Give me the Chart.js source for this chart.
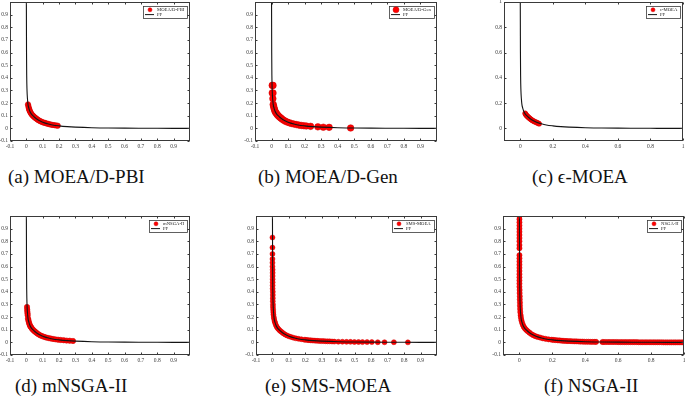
<!DOCTYPE html>
<html><head><meta charset="utf-8">
<script src="https://cdn.jsdelivr.net/npm/chart.js@4/dist/chart.umd.min.js"></script>
<style>
html,body{margin:0;padding:0;background:#fff;width:685px;height:404px;overflow:hidden;position:relative;}
canvas{position:absolute;}
.cap{position:absolute;font-family:"Liberation Serif","DejaVu Serif",serif;font-size:19px;color:#111;white-space:nowrap;line-height:1;}
</style></head><body>
<script>
// ---------- DATA ----------
const pfX = [0, 0.0005, 0.001, 0.002, 0.004, 0.007, 0.01, 0.015, 0.02, 0.03, 0.04, 0.05, 0.07, 0.1, 0.13, 0.16, 0.2, 0.25, 0.3, 0.4, 0.5, 0.6, 0.7, 0.8, 0.9, 1.0];
const pfY = [1.0, 0.8, 0.6, 0.42, 0.3, 0.23, 0.19, 0.16, 0.14, 0.115, 0.1, 0.088, 0.068, 0.048, 0.036, 0.027, 0.02, 0.014, 0.01, 0.005, 0.003, 0.0015, 0.0008, 0.0004, 0.0002, 0];

const pbiX = [0.010,0.012,0.014,0.016,0.018,0.020,0.023,0.026,0.030,0.034,0.038,0.042,0.046,0.050,0.055,0.060,0.066,0.072,0.078,0.085,0.092,0.100,0.108,0.116,0.125,0.134,0.143,0.152,0.162,0.172,0.182,0.192];
const pbiY = [0.190,0.178,0.166,0.156,0.148,0.140,0.132,0.125,0.115,0.109,0.103,0.098,0.093,0.088,0.083,0.078,0.072,0.066,0.062,0.057,0.053,0.048,0.045,0.042,0.038,0.035,0.032,0.029,0.027,0.025,0.023,0.021];

const genX = [0.004,0.009,0.004,0.009,0.008,0.010,0.012,0.014,0.017,0.020,0.024,0.028,0.033,0.038,0.044,0.050,0.057,0.065,0.074,0.084,0.095,0.107,0.120,0.135,0.150,0.165,0.180,0.195,0.210,0.236,0.280,0.313,0.348,0.478];
const genY = [0.340,0.340,0.280,0.280,0.235,0.190,0.178,0.166,0.152,0.140,0.128,0.121,0.111,0.103,0.095,0.088,0.081,0.072,0.064,0.056,0.050,0.044,0.039,0.034,0.030,0.026,0.023,0.021,0.019,0.016,0.012,0.009,0.008,0.003];

const epsX = [0.030,0.033,0.036,0.040,0.044,0.048,0.052,0.057,0.062,0.067,0.072,0.078,0.084,0.090,0.097,0.104,0.110,0.116];
const epsY = [0.119,0.112,0.106,0.100,0.095,0.090,0.085,0.080,0.075,0.070,0.065,0.060,0.056,0.052,0.048,0.044,0.040,0.036];

const mnX = [0.004,0.005,0.006,0.007,0.008,0.010,0.012,0.014,0.017,0.020,0.024,0.028,0.033,0.038,0.044,0.050,0.057,0.065,0.074,0.084,0.095,0.107,0.120,0.134,0.148,0.163,0.178,0.194,0.210,0.228,0.246,0.265,0.285];
const mnY = [0.280,0.260,0.245,0.230,0.215,0.190,0.178,0.166,0.152,0.140,0.128,0.121,0.111,0.103,0.095,0.088,0.081,0.072,0.064,0.056,0.050,0.044,0.039,0.034,0.031,0.027,0.024,0.021,0.019,0.017,0.014,0.013,0.011];

const smsX = [0.000,0.000,0.000,0.000,0.000,0.000,0.001,0.001,0.001,0.001,0.001,0.001,0.001,0.002,0.002,0.002,0.002,0.003,0.003,0.004,0.005,0.006,0.008,0.010,0.013,0.016,0.020,0.025,0.030,0.036,0.043,0.050,0.058,0.067,0.077,0.088,0.100,0.113,0.127,0.142,0.158,0.175,0.193,0.202,0.212,0.222,0.232,0.242,0.253,0.264,0.275,0.286,0.298,0.310,0.322,0.335,0.348,0.362,0.376,0.400,0.425,0.450,0.474,0.498,0.523,0.547,0.575,0.604,0.640,0.681,0.738,0.823];
const smsY = [0.830,0.750,0.700,0.660,0.630,0.600,0.575,0.550,0.525,0.500,0.475,0.450,0.425,0.400,0.375,0.350,0.325,0.300,0.280,0.260,0.240,0.220,0.200,0.185,0.168,0.155,0.140,0.126,0.115,0.106,0.096,0.088,0.080,0.071,0.062,0.055,0.048,0.043,0.037,0.032,0.028,0.025,0.021,0.020,0.019,0.017,0.016,0.015,0.014,0.013,0.012,0.011,0.010,0.010,0.009,0.008,0.008,0.007,0.006,0.005,0.005,0.004,0.004,0.003,0.003,0.002,0.002,0.002,0.001,0.001,0.001,0.000];

const nsX = [0.000,0.000,0.000,0.000,0.000,0.000,0.000,0.000,0.000,0.000,0.000,0.000,0.000,0.000,0.000,0.000,0.000,0.000,0.000,0.000,0.000,0.000,0.001,0.001,0.002,0.002,0.003,0.003,0.004,0.005,0.007,0.009,
  0.012,0.016,0.021,0.027,0.034,0.042,0.051,0.061,0.072,0.084,0.097,0.111,0.126,0.142,0.159,0.177,0.196,
  0.208,0.220,0.233,0.245,0.258,0.270,0.283,0.295,0.308,0.320,0.333,0.345,0.358,0.370,0.383,0.395,0.408,0.420,0.433,0.445,0.458,0.466,
  0.504,0.513,0.525,0.538,0.550,0.563,0.575,0.588,0.600,0.613,0.625,0.638,0.650,0.663,0.675,0.688,0.700,0.713,0.725,0.738,0.750,0.763,0.775,0.788,0.800,0.813,0.825,0.838,0.850,0.863,0.875,0.888,0.900,0.913,0.925,0.938,0.950,0.963,0.975,0.988,1.000];
const nsY = [1.000,0.975,0.950,0.925,0.900,0.875,0.850,0.825,0.800,0.770,0.745,0.690,0.665,0.640,0.615,0.590,0.565,0.540,0.515,0.490,0.465,0.440,0.415,0.390,0.365,0.340,0.315,0.290,0.265,0.240,0.215,0.195,
  0.175,0.156,0.138,0.122,0.109,0.098,0.087,0.077,0.066,0.057,0.049,0.043,0.038,0.032,0.028,0.024,0.021,
  0.019,0.018,0.016,0.015,0.013,0.012,0.011,0.010,0.010,0.009,0.008,0.008,0.007,0.006,0.006,0.005,0.005,0.005,0.004,0.004,0.004,0.004,
  0.003,0.003,0.003,0.003,0.003,0.003,0.003,0.003,0.002,0.002,0.002,0.002,0.002,0.002,0.002,0.002,0.002,0.002,0.001,0.001,0.001,0.001,0.001,0.001,0.001,0.001,0.001,0.001,0.001,0.001,0.000,0.000,0.000,0.000,0.000,0.000,0.000,0.000,0.000,0.000,0.000];

const ticksFine = [-0.1,0,0.1,0.2,0.3,0.4,0.5,0.6,0.7,0.8,0.9];
const ticksFineLabels = ["-0.1","0","0.1","0.2","0.3","0.4","0.5","0.6","0.7","0.8","0.9"];
const ticksCoarse = [0,0.2,0.4,0.6,0.8,1];
const ticksCoarseLabels = ["0","0.2","0.4","0.6","0.8","1"];

const seriesNames = ["MOEA/D-PBI","MOEA/D-Gen","ε-MOEA","mNSGA-II","SMS-MOEA","NSGA-II"];
const captions = ["(a) MOEA/D-PBI","(b) MOEA/D-Gen","(c) ϵ-MOEA","(d) mNSGA-II","(e) SMS-MOEA","(f) NSGA-II"];
const pfLabel = "PF";

// ---------- LAYOUT ----------
const panels = [
  {xs:pbiX, ys:pbiY, r:2.7, lr:2.0, L:10,  T:2,   R:190, B:141, xt:'f', yt:'f', cx:8,   cy:167},
  {xs:genX, ys:genY, r:3.3, lr:3.0, L:255, T:2,   R:437, B:141, xt:'f', yt:'f', cx:258, cy:167},
  {xs:epsX, ys:epsY, r:2.5, lr:2.0, L:504, T:2,   R:683, B:141, xt:'c', yt:'c', cx:532, cy:167},
  {xs:mnX,  ys:mnY,  r:2.7, lr:2.0, L:10,  T:216, R:190, B:355, xt:'f', yt:'f', cx:15,  cy:376},
  {xs:smsX, ys:smsY, r:2.5, lr:2.0, L:256, T:216, R:437, B:355, xt:'f', yt:'f', cx:265, cy:376},
  {xs:nsX,  ys:nsY,  r:2.6, lr:2.0, L:503, T:216, R:684, B:355, xt:'c', yt:'f', cx:544, cy:376}
];

Chart.defaults.font.family = '"Liberation Serif","Times New Roman",serif';
Chart.defaults.color = '#3c3c3c';

const framePlugin = {
  id: 'frame',
  afterDatasetsDraw(chart, args, opts) {
    const {ctx, chartArea: a, scales: {x, y}} = chart;
    ctx.save();
    ctx.strokeStyle = '#3a3a3a';
    ctx.lineWidth = 1;
    const l = Math.round(a.left) + 0.5, r = Math.round(a.right) - 0.5;
    const t = Math.round(a.top) + 0.5, b = Math.round(a.bottom) - 0.5;
    ctx.strokeRect(l, t, r - l, b - t);
    ctx.beginPath();
    x.ticks.forEach(tk => {
      const p = Math.round(x.getPixelForValue(tk.value)) + 0.5;
      ctx.moveTo(p, b); ctx.lineTo(p, b - 2);
      ctx.moveTo(p, t); ctx.lineTo(p, t + 2);
    });
    y.ticks.forEach(tk => {
      const p = Math.round(y.getPixelForValue(tk.value)) + 0.5;
      ctx.moveTo(l, p); ctx.lineTo(l + 2, p);
      ctx.moveTo(r, p); ctx.lineTo(r - 2, p);
    });
    ctx.stroke();

    // legend box
    const ds = chart.data.datasets;
    const name = ds[1].label, pf = ds[0].label;
    ctx.font = '4.7px "Liberation Serif", serif';
    const tw = Math.max(ctx.measureText(name).width, ctx.measureText(pf).width);
    const w = Math.round(14 + tw + 3), h = 12;
    const lx = Math.round(a.right) - 3 - w, ly = Math.round(a.top) + 4;
    ctx.fillStyle = '#fff';
    ctx.fillRect(lx, ly, w, h);
    ctx.strokeStyle = '#3a3a3a';
    ctx.lineWidth = 0.8;
    ctx.strokeRect(lx + 0.5, ly + 0.5, w, h);
    ctx.beginPath();
    ctx.arc(lx + 7, ly + 3.8, opts.lr, 0, Math.PI * 2);
    ctx.fillStyle = '#ff0000'; ctx.fill();
    ctx.strokeStyle = '#c80000'; ctx.lineWidth = 0.5; ctx.stroke();
    ctx.beginPath();
    ctx.moveTo(lx + 2, ly + 8.6); ctx.lineTo(lx + 11, ly + 8.6);
    ctx.strokeStyle = '#141414'; ctx.lineWidth = 1; ctx.stroke();
    ctx.fillStyle = '#222';
    ctx.textBaseline = 'middle';
    ctx.textAlign = 'left';
    ctx.fillText(name, lx + 14, ly + 4);
    ctx.fillText(pf, lx + 14, ly + 8.8);
    ctx.restore();
  }
};

panels.forEach((p, i) => {
  const cv = document.createElement('canvas');
  const W = p.R - p.L + 28, H = p.B - p.T + 18;
  cv.width = W; cv.height = H;
  cv.style.left = (p.L - 24) + 'px'; cv.style.top = (p.T - 4) + 'px';
  cv.style.width = W + 'px'; cv.style.height = H + 'px';
  document.body.appendChild(cv);

  const xv = p.xt === 'f' ? ticksFine : ticksCoarse;
  const xl = p.xt === 'f' ? ticksFineLabels : ticksCoarseLabels;
  const yv = p.yt === 'f' ? ticksFine : ticksCoarse;
  const yl = p.yt === 'f' ? ticksFineLabels : ticksCoarseLabels;

  new Chart(cv, {
    type: 'scatter',
    data: {
      datasets: [
        {label: pfLabel, data: pfX.map((x, k) => ({x, y: pfY[k]})), showLine: true, pointRadius: 0, pointHoverRadius: 0,
         borderColor: '#141414', borderWidth: 1.1, cubicInterpolationMode: 'monotone', order: 0},
        {label: seriesNames[i], data: p.xs.map((x, k) => ({x, y: p.ys[k]})), pointRadius: p.r, pointHoverRadius: p.r,
         backgroundColor: '#ff0000', borderColor: '#d00000', borderWidth: 0.5, order: 1}
      ]
    },
    options: {
      responsive: false, animation: false, devicePixelRatio: 1,
      layout: {padding: {left: 0, top: 4, right: 4, bottom: 0}},
      plugins: {legend: {display: false}, tooltip: {enabled: false}, frame: {lr: p.lr}},
      scales: {
        x: {type: 'linear', min: -0.1, max: 1,
            grid: {display: false, drawTicks: false}, border: {display: false},
            afterBuildTicks: s => { s.ticks = xv.map(v => ({value: v})); },
            afterFit: s => { s.height = 14; s.paddingLeft = 0; s.paddingRight = 0; },
            ticks: {autoSkip: false, maxRotation: 0, minRotation: 0, padding: 2, font: {size: 5.5},
                    callback: (v, k) => xl[k]}},
        y: {type: 'linear', min: -0.1, max: 1,
            grid: {display: false, drawTicks: false}, border: {display: false},
            afterBuildTicks: s => { s.ticks = yv.map(v => ({value: v})); },
            afterFit: s => { s.width = 24; s.paddingTop = 0; s.paddingBottom = 0; },
            ticks: {autoSkip: false, padding: 2, font: {size: 5.5},
                    callback: (v, k) => yl[k]}}
      }
    },
    plugins: [framePlugin]
  });

  const d = document.createElement('div');
  d.className = 'cap';
  d.textContent = captions[i];
  d.style.left = p.cx + 'px';
  d.style.top = p.cy + 'px';
  document.body.appendChild(d);
});
</script>
</body></html>
